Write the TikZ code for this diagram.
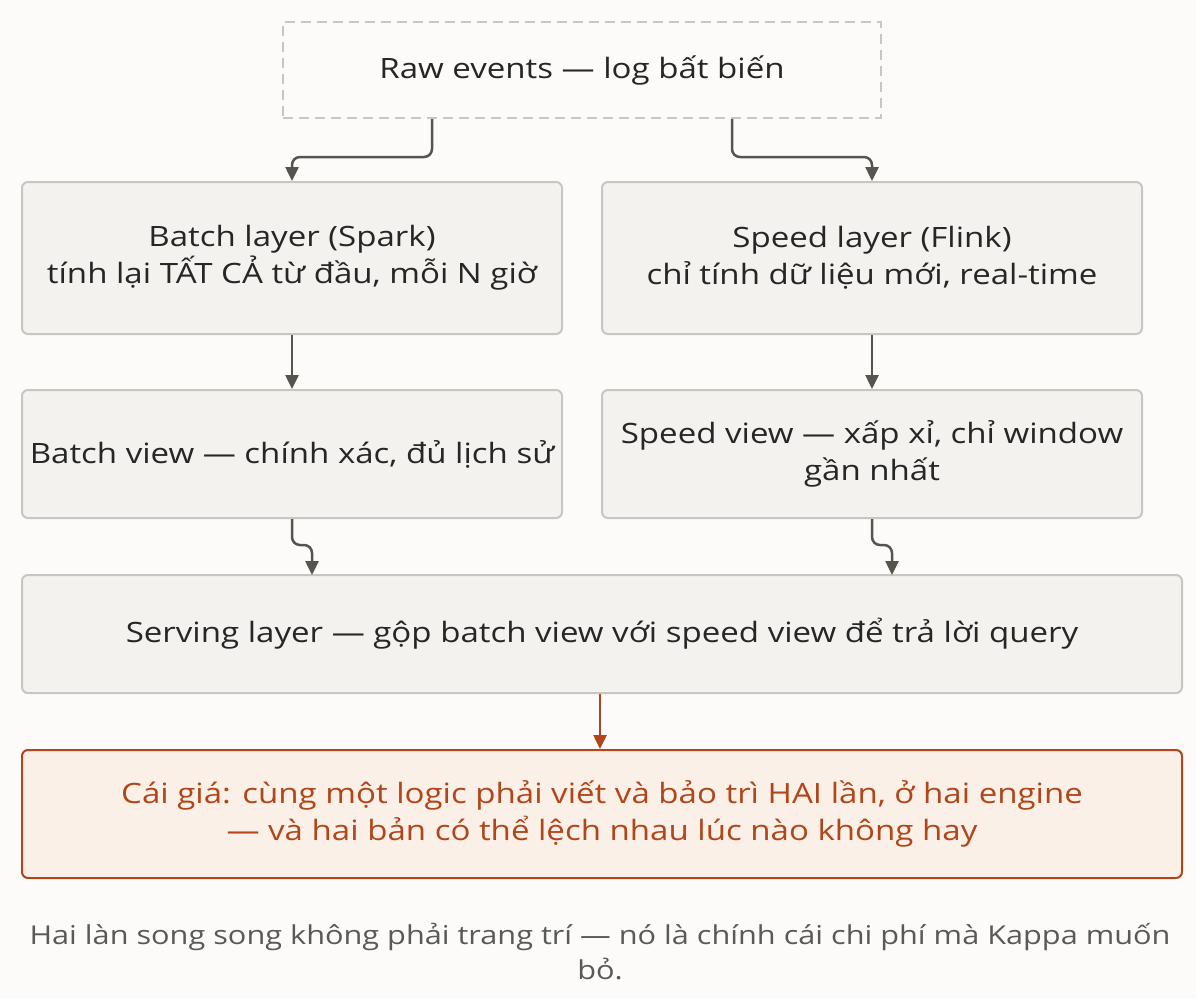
\documentclass[tikz,border=0pt]{standalone}
\usepackage{fontspec}
\setmainfont{Open Sans}[FakeStretch=1.18]
\usetikzlibrary{arrows.meta}
\definecolor{bg}{HTML}{FCFBF9}
\definecolor{boxf}{HTML}{F3F2EF}
\definecolor{boxd}{HTML}{C8C6C0}
\definecolor{arr}{HTML}{555550}
\definecolor{warn}{HTML}{B0461A}
\definecolor{warnf}{HTML}{FAF0E8}
\begin{document}
\begin{tikzpicture}[x=1pt,y=-1pt,
  box/.style={draw=boxd,fill=boxf,line width=2pt,rounded corners=6pt,align=center,font=\fontsize{28}{37}\selectfont,text=black!85,inner sep=0pt},
  con/.style={draw=arr,line width=2.5pt,rounded corners=8pt,-{Triangle[length=14pt,width=13pt]}}]
\useasboundingbox[fill=bg] (0,0) rectangle (1196,999);
\node[box,fill=bg,draw=boxd,dashed,dash pattern=on 10pt off 6pt,rounded corners=0pt,minimum width=598pt,minimum height=96pt] (raw) at (582,70) {Raw events — log bất biến};
\node[box,minimum width=540pt,minimum height=152pt] (bl) at (292,258) {Batch layer (Spark)\\tính lại TẤT CẢ từ đầu, mỗi N giờ};
\node[box,minimum width=540pt,minimum height=152pt] (sl) at (872,258) {Speed layer (Flink)\\chỉ tính dữ liệu mới, real-time};
\node[box,minimum width=540pt,minimum height=128pt] (bv) at (292,454) {Batch view — chính xác, đủ lịch sử};
\node[box,minimum width=540pt,minimum height=128pt] (sv) at (872,454) {Speed view — xấp xỉ, chỉ window\\gần nhất};
\node[box,minimum width=1160pt,minimum height=118pt] (srv) at (602,634) {Serving layer — gộp batch view với speed view để trả lời query};
\node[box,draw=warn,fill=warnf,text=warn,minimum width=1160pt,minimum height=128pt] (cost) at (602,814) {Cái giá: cùng một logic phải viết và bảo trì HAI lần, ở hai engine\\— và hai bản có thể lệch nhau lúc nào không hay};
\node[align=center,text=black!65,font=\fontsize{26}{35}\selectfont] (cap) at (600,952) {Hai làn song song không phải trang trí — nó là chính cái chi phí mà Kappa muốn\\bỏ.};
\draw[con] (raw.south -| 432,0) |- (292,157) -- (bl.north);
\draw[con] (raw.south -| 732,0) |- (872,157) -- (sl.north);
\draw[con] (bl) -- (bv);
\draw[con] (sl) -- (sv);
\draw[con] (bv.south) |- (312,545) -- (312,575);
\draw[con] (sv.south) |- (892,545) -- (892,575);
\draw[con,draw=warn] (srv.south -| 600,0) -- (cost.north -| 600,0);
\end{tikzpicture}
\end{document}
